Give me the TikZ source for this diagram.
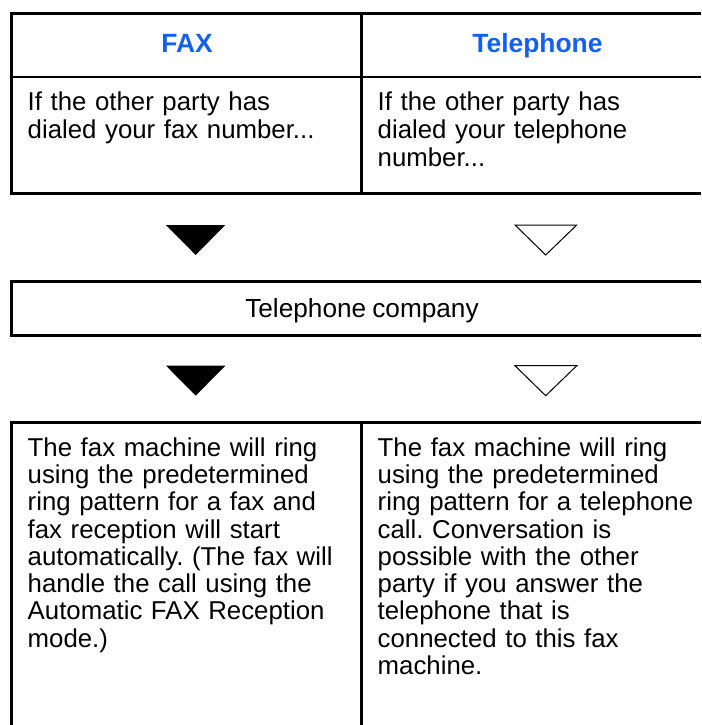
\documentclass[tikz,border=0pt]{standalone}
\usepackage{fontspec}
\setmainfont[WordSpace=0.85]{Liberation Sans}
\frenchspacing
\definecolor{fxblue}{HTML}{1160F0}
\usepackage{tikz}

\begin{document}
\begin{tikzpicture}[x=1pt,y=-1pt,
  frame/.style={draw=black,line width=3pt},
  sep/.style={draw=black,line width=2pt},
  head/.style={font=\fontsize{26.4}{28}\selectfont\bfseries,text=fxblue,inner sep=0pt,anchor=base},
  txt/.style={font=\fontsize{25.8}{28}\selectfont,inner sep=0pt,anchor=base west,align=left,text width=330pt},
  longtxt/.style={txt,font=\fontsize{25.8}{27.25}\selectfont},
  midtxt/.style={font=\fontsize{26.2}{28}\selectfont,inner sep=0pt,anchor=base},
  solidtri/.style={fill=black},
  hollowtri/.style={draw=black,line width=1pt,fill=white}]
\useasboundingbox (0,0) rectangle (701,725);
\draw[frame] (701,13.7) -- (11.7,13.7) -- (11.7,193.3) -- (701,193.3);
\draw[sep] (11.7,76.5) -- (701,76.5);
\draw[frame] (361.7,13.7) -- (361.7,193.3);
\draw[frame] (701,281.3) -- (11.7,281.3) -- (11.7,335.3) -- (701,335.3);
\draw[frame] (11.7,725) -- (11.7,422.3) -- (701,422.3);
\draw[frame] (361.7,422.3) -- (361.7,725);
\foreach \ty in {225,365.7}{
  \fill[solidtri] (166,\ty) -- (225.3,\ty) -- (195.7,\ty+30) -- cycle;
  \draw[hollowtri] (515,\ty) -- (576.7,\ty) -- (545.7,\ty+30) -- cycle;
}
\node[head] (faxhd) at (187,52.3) {FAX};
\node[head] (telhd) at (537.5,52.3) {Telephone};
\node[txt] (faxin) at (27.5,110.5) {If the other party has\\dialed your fax number...};
\node[txt] (telin) at (377.5,110.5) {If the other party has\\dialed your telephone\\number...};
\node[midtxt] (telco) at (362,317) {Telephone company};
\node[longtxt] (faxout) at (27.5,456.3) {The fax machine will ring\\using the predetermined\\ring pattern for a fax and\\fax reception will start\\automatically. (The fax will\\handle the call using the\\Automatic FAX Reception\\mode.)};
\node[longtxt] (telout) at (377.5,456.3) {The fax machine will ring\\using the predetermined\\ring pattern for a telephone\\call. Conversation is\\possible with the other\\party if you answer the\\telephone that is\\connected to this fax\\machine.};
\end{tikzpicture}
\end{document}
